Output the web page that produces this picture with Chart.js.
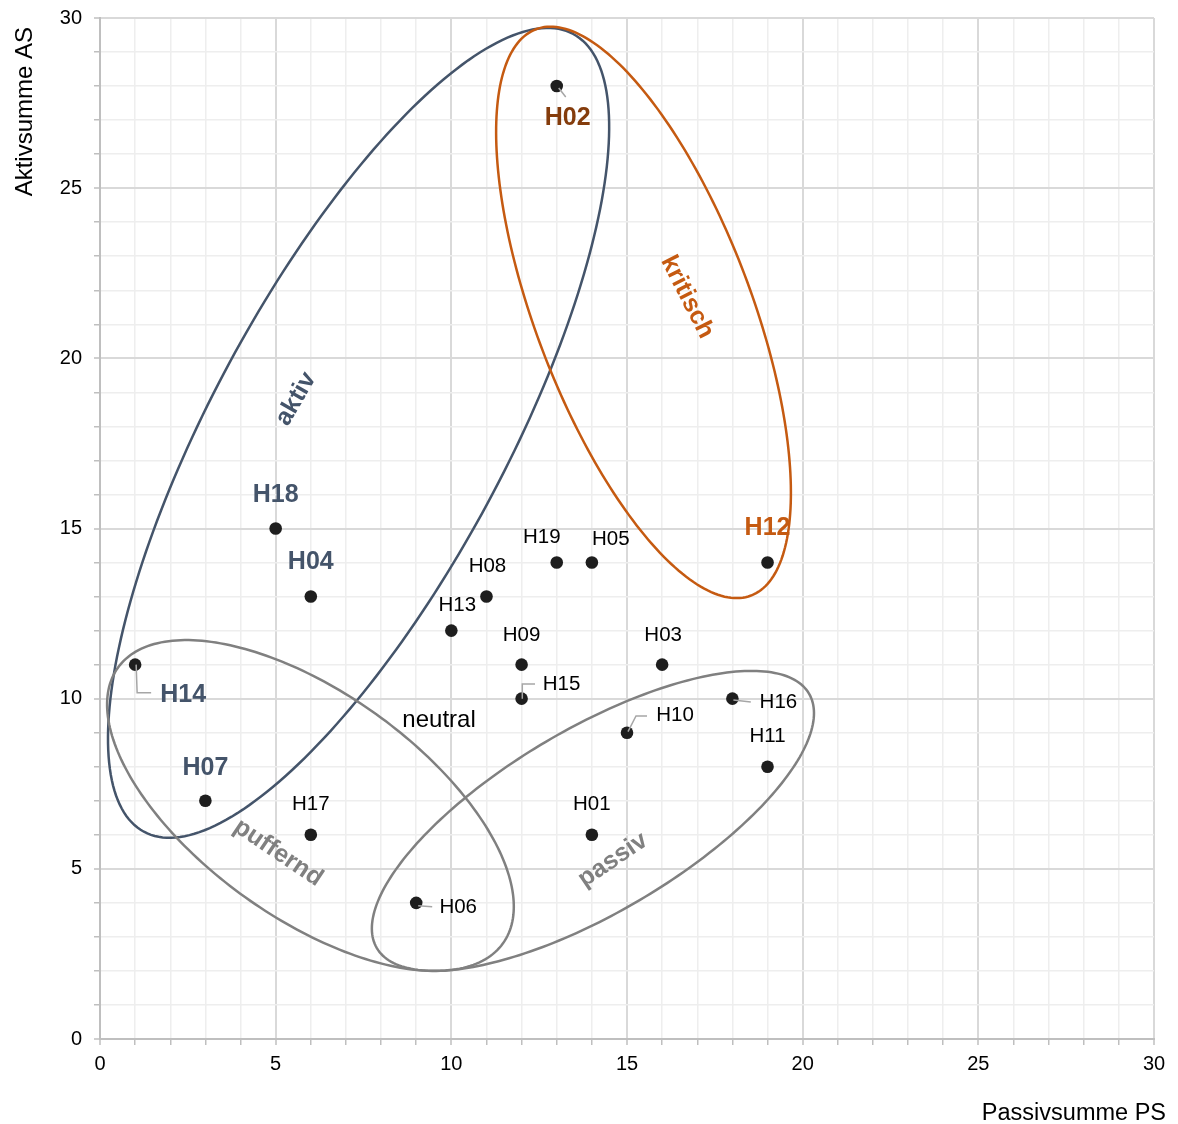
<!DOCTYPE html>
<html><head><meta charset="utf-8">
<script src="https://cdn.jsdelivr.net/npm/chart.js@4.4.1/dist/chart.umd.min.js"></script>
<style>html,body{margin:0;padding:0;background:#fff;}#wrap{width:1178px;height:1124px;position:relative;}</style>
</head><body><div id="wrap"><canvas id="c"></canvas></div>
<script>
// ---- data ----
const names       = ['H01','H02','H03','H04','H05','H06','H07','H08','H09','H10','H11','H12','H13','H14','H15','H16','H17','H18','H19'];
const passivsumme = [14, 13, 16, 6, 14, 9, 3, 11, 12, 15, 19, 19, 10, 1, 12, 18, 6, 5, 13];
const aktivsumme  = [ 6, 28, 11, 13, 14, 4, 7, 13, 11, 9, 8, 14, 12, 11, 10, 10, 6, 15, 14];
const xTickLabels = [0, 5, 10, 15, 20, 25, 30];
const yTickLabels = [0, 5, 10, 15, 20, 25, 30];
const xTitle = 'Passivsumme PS';
const yTitle = 'Aktivsumme AS';

// ---- zone annotations (data units: centre + two conjugate semi-diameters) ----
const zones = [
  {name:'aktiv',    c:[7.36,17.81], u:[6.11,11.72], v:[-3.68,2.05], color:'#44546A', at:[5.58,18.81], rot:-60},
  {name:'kritisch', c:[15.47,21.35], u:[3.06,-8.32], v:[2.87,1.125], color:'#C55A11', at:[16.71,21.80], rot:63},
  {name:'puffernd', c:[5.99,6.86], u:[5.48,-4.05], v:[1.864,2.689], color:'#808080', at:[5.07,5.47], rot:34},
  {name:'passiv',   c:[14.03,6.41], u:[6.15,3.74], v:[-1.33,2.33], color:'#808080', at:[14.60,5.26], rot:-34}
];
const freeText = [{text:'neutral', at:[9.65,9.37]}];

// ---- label styling / placement (pixel offsets from the point) ----
const FAM = "'Liberation Sans', Arial, sans-serif";
const labelStyle = {
  H02:{color:'#843C0C', bold:true, off:[11,32], leader:[[2,2],[9,11]]},
  H12:{color:'#C55A11', bold:true, off:[0,-34]},
  H18:{color:'#44546A', bold:true, off:[0,-33]},
  H04:{color:'#44546A', bold:true, off:[0,-34]},
  H14:{color:'#44546A', bold:true, off:[48,30], leader:[[1,0],[2,28],[16,28]]},
  H07:{color:'#44546A', bold:true, off:[0,-33]},
  H17:{off:[0,-30]}, H06:{off:[42,4.5], leader:[[2,3],[16,4]]},
  H13:{off:[6,-25]}, H08:{off:[1,-30]}, H19:{off:[-15,-25]}, H05:{off:[19,-23]},
  H09:{off:[0,-29]}, H03:{off:[1,-29]}, H15:{off:[40,-14.5], leader:[[0.7,0],[0.7,-14.7],[13.4,-14.7]]},
  H16:{off:[46,4], leader:[[1,1.3],[18.4,3.3]]}, H10:{off:[48,-17], leader:[[1,-1],[9,-16.7],[20,-16.7]]},
  H11:{off:[0,-30]}, H01:{off:[0,-30]}
};

const zonePlugin = {
  id:'zones',
  beforeDatasetsDraw(chart){
    const {ctx, scales:{x, y}} = chart;
    ctx.save();
    zones.forEach(z => {
      ctx.beginPath();
      const N = 240;
      for (let k=0;k<=N;k++){
        const t = 2*Math.PI*k/N;
        const dx = z.c[0] + z.u[0]*Math.cos(t) + z.v[0]*Math.sin(t);
        const dy = z.c[1] + z.u[1]*Math.cos(t) + z.v[1]*Math.sin(t);
        const px = x.getPixelForValue(dx), py = y.getPixelForValue(dy);
        if (k===0) ctx.moveTo(px,py); else ctx.lineTo(px,py);
      }
      ctx.closePath();
      ctx.strokeStyle = z.color; ctx.lineWidth = 2.5; ctx.stroke();
    });
    ctx.restore();
  },
  afterDatasetsDraw(chart){
    const {ctx, scales:{x, y}, chartArea} = chart;
    ctx.save();
    zones.forEach(z => {
      ctx.save();
      ctx.translate(x.getPixelForValue(z.at[0]), y.getPixelForValue(z.at[1]));
      ctx.rotate(z.rot*Math.PI/180);
      ctx.font = 'bold 25px ' + FAM; ctx.fillStyle = z.color;
      ctx.textAlign='center'; ctx.textBaseline='middle';
      ctx.fillText(z.name, 0, 0);
      ctx.restore();
    });
    freeText.forEach(f => {
      ctx.font = '24px ' + FAM; ctx.fillStyle = '#000';
      ctx.textAlign='center'; ctx.textBaseline='middle';
      ctx.fillText(f.text, x.getPixelForValue(f.at[0]), y.getPixelForValue(f.at[1]));
    });
    const meta = chart.getDatasetMeta(0);
    meta.data.forEach((pt, i) => {
      const st = labelStyle[names[i]] || {off:[0,-30]};
      if (st.leader){
        ctx.beginPath();
        st.leader.forEach((p,k)=>{ if(k===0) ctx.moveTo(pt.x+p[0], pt.y+p[1]); else ctx.lineTo(pt.x+p[0], pt.y+p[1]); });
        ctx.strokeStyle='#A6A6A6'; ctx.lineWidth=1.5; ctx.stroke();
      }
    });
    meta.data.forEach((pt, i) => {
      const st = labelStyle[names[i]] || {off:[0,-30]};
      ctx.font = (st.bold ? 'bold 25px ' : '20.5px ') + FAM;
      ctx.fillStyle = st.color || '#000';
      ctx.textAlign='center'; ctx.textBaseline='middle';
      ctx.fillText(names[i], pt.x + st.off[0], pt.y + st.off[1]);
    });
    ctx.fillStyle='#000';
    ctx.font = '23.5px ' + FAM;
    ctx.textAlign='right'; ctx.textBaseline='alphabetic';
    ctx.fillText(xTitle, chartArea.right + 12, chartArea.bottom + 81);
    ctx.save();
    ctx.translate(chartArea.left - 68, chartArea.top + 9);
    ctx.rotate(-Math.PI/2);
    ctx.font = '24px ' + FAM;
    ctx.textAlign='right'; ctx.textBaseline='alphabetic';
    ctx.fillText(yTitle, 0, 0);
    ctx.restore();
    ctx.restore();
  }
};

function gridOpts(){
  return {
    color: c => (c.tick && c.tick.value % 5 === 0) ? '#D9D9D9' : '#EEEEEE',
    lineWidth: c => (c.tick && c.tick.value % 5 === 0) ? 2 : 1.5,
    drawTicks: true, tickLength: 6, tickWidth: 1.5, tickColor: '#BFBFBF'
  };
}

new Chart(document.getElementById('c'), {
  type: 'scatter',
  data: { datasets: [{
    data: passivsumme.map((v,i)=>({x:v, y:aktivsumme[i]})),
    pointRadius: 6.3, pointHoverRadius: 6.3, backgroundColor:'#1E1E1E', borderWidth:0
  }]},
  options: {
    responsive:true, maintainAspectRatio:false, animation:false, events:[],
    layout:{padding:{top:0, right:24, left:0, bottom:0}},
    plugins:{legend:{display:false}, tooltip:{enabled:false}},
    scales:{
      x:{type:'linear', min:0, max:30,
         ticks:{stepSize:1, autoSkip:false, maxRotation:0, padding:7, color:'#000', font:{size:20, family:FAM},
                callback: v => xTickLabels.includes(v) ? String(v) : ''},
         grid: gridOpts(), border:{color:'#BFBFBF', width:2},
         afterFit: s => { s.height = 85; }},
      y:{type:'linear', min:0, max:30,
         ticks:{stepSize:1, autoSkip:false, padding:12, color:'#000', font:{size:20, family:FAM},
                callback: v => yTickLabels.includes(v) ? String(v) : ''},
         grid: gridOpts(), border:{color:'#BFBFBF', width:2},
         afterFit: s => { s.width = 100; s.paddingTop = 18; }}
    }
  },
  plugins:[zonePlugin]
});
</script></body></html>
